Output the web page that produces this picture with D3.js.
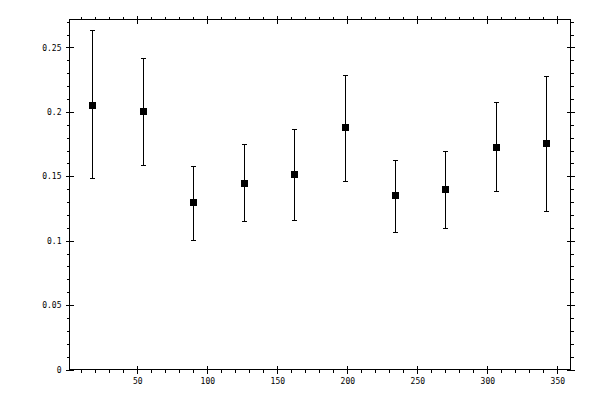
<!DOCTYPE html>
<html>
<head>
<meta charset="utf-8">
<script src="https://cdn.jsdelivr.net/npm/d3@7"></script>
<style>
  html, body { margin: 0; padding: 0; background: #fff; }
  svg { display: block; }
  text { font-family: "DejaVu Sans Mono", monospace; font-size: 8px; fill: #000; }
</style>
</head>
<body>
<div id="chart"></div>
<script>
// Data
const xValues = [18, 54, 90, 126, 162, 198, 234, 270, 306, 342];
const yValues = [0.2057, 0.2003, 0.1297, 0.1444, 0.1514, 0.1879, 0.1351, 0.1398, 0.1724, 0.1755];
const yUpper  = [0.2632, 0.2422, 0.1576, 0.1747, 0.1868, 0.2290, 0.1630, 0.1693, 0.2073, 0.2275];
const yLower  = [0.1483, 0.1584, 0.1009, 0.1149, 0.1157, 0.1467, 0.1071, 0.1095, 0.1382, 0.1234];

const xMajorTicks = [50, 100, 150, 200, 250, 300, 350];
const xTickLabels = ["50", "100", "150", "200", "250", "300", "350"];
const xMinorTicks = [10, 20, 30, 40, 60, 70, 80, 90, 110, 120, 130, 140, 160, 170, 180, 190,
                     210, 220, 230, 240, 260, 270, 280, 290, 310, 320, 330, 340];
const yMajorTicks = [0, 0.05, 0.1, 0.15, 0.2, 0.25];
const yTickLabels = ["0", "0.05", "0.1", "0.15", "0.2", "0.25"];
const yMinorTicks = [0.01, 0.02, 0.03, 0.04, 0.06, 0.07, 0.08, 0.09, 0.11, 0.12, 0.13, 0.14,
                     0.16, 0.17, 0.18, 0.19, 0.21, 0.22, 0.23, 0.24, 0.26, 0.27];

const width = 600;
const height = 400;
const plotLeft = 69.5, plotRight = 570.5, plotTop = 19.5, plotBottom = 369.5;

const x = d3.scaleLinear().domain([1.6, 359.4]).range([plotLeft, plotRight]);
const y = d3.scaleLinear().domain([0, 0.2717]).range([plotBottom, plotTop]);

const svg = d3.create("svg")
    .attr("width", width)
    .attr("height", height);

// frame
svg.append("rect")
    .attr("x", plotLeft).attr("y", plotTop)
    .attr("width", plotRight - plotLeft).attr("height", plotBottom - plotTop)
    .attr("fill", "none").attr("stroke", "#000").attr("stroke-width", 1)
    .attr("shape-rendering", "crispEdges");

// one side of the frame: outer minor + major ticks, labels optional
function drawAxis(axisFn, scale, pos, transform, labels, pad) {
    const g = svg.append("g").attr("shape-rendering", "crispEdges");
    g.append("g").attr("transform", transform)
        .call(axisFn(scale).tickValues(pos.minor).tickSize(3).tickFormat(""))
        .call(s => s.select(".domain").remove());
    g.append("g").attr("transform", transform)
        .call(axisFn(scale).tickValues(pos.major).tickSize(4).tickPadding(pad || 3)
            .tickFormat((d, i) => labels ? labels[i] : ""))
        .call(s => s.select(".domain").remove());
    return g;
}

const xPos = { major: xMajorTicks, minor: xMinorTicks };
const yPos = { major: yMajorTicks, minor: yMinorTicks };

drawAxis(d3.axisBottom, x, xPos, `translate(0,${plotBottom})`, xTickLabels, 5);
drawAxis(d3.axisTop, x, xPos, `translate(0,${plotTop})`, null);
drawAxis(d3.axisLeft, y, yPos, `translate(${plotLeft},0)`, yTickLabels, 4);
drawAxis(d3.axisRight, y, yPos, `translate(${plotRight},0)`, null);

// inner halves of major ticks
const inner = svg.append("g").attr("shape-rendering", "crispEdges");
inner.append("g").attr("transform", `translate(0,${plotBottom})`)
    .call(d3.axisTop(x).tickValues(xMajorTicks).tickSize(4).tickFormat(""))
    .call(s => s.select(".domain").remove());
inner.append("g").attr("transform", `translate(0,${plotTop})`)
    .call(d3.axisBottom(x).tickValues(xMajorTicks).tickSize(4).tickFormat(""))
    .call(s => s.select(".domain").remove());
inner.append("g").attr("transform", `translate(${plotLeft},0)`)
    .call(d3.axisRight(y).tickValues(yMajorTicks).tickSize(4).tickFormat(""))
    .call(s => s.select(".domain").remove());
inner.append("g").attr("transform", `translate(${plotRight},0)`)
    .call(d3.axisLeft(y).tickValues(yMajorTicks).tickSize(4).tickFormat(""))
    .call(s => s.select(".domain").remove());

svg.selectAll(".tick text").attr("font-family", null).attr("font-size", null);
svg.selectAll(".tick line").attr("stroke", "#000");

// error bars
const points = xValues.map((d, i) => ({ x: d, y: yValues[i], hi: yUpper[i], lo: yLower[i] }));

const bars = svg.append("g")
    .attr("stroke", "#000")
    .attr("stroke-width", 1)
    .attr("shape-rendering", "crispEdges");

bars.selectAll("line.v")
    .data(points)
    .join("line")
    .attr("class", "v")
    .attr("x1", d => Math.round(x(d.x)) + 0.5)
    .attr("x2", d => Math.round(x(d.x)) + 0.5)
    .attr("y1", d => y(d.hi))
    .attr("y2", d => y(d.lo));

bars.selectAll("line.cap-hi")
    .data(points)
    .join("line")
    .attr("class", "cap-hi")
    .attr("x1", d => Math.round(x(d.x)) - 2)
    .attr("x2", d => Math.round(x(d.x)) + 3)
    .attr("y1", d => Math.round(y(d.hi)) + 0.5)
    .attr("y2", d => Math.round(y(d.hi)) + 0.5);

bars.selectAll("line.cap-lo")
    .data(points)
    .join("line")
    .attr("class", "cap-lo")
    .attr("x1", d => Math.round(x(d.x)) - 2)
    .attr("x2", d => Math.round(x(d.x)) + 3)
    .attr("y1", d => Math.round(y(d.lo)) + 0.5)
    .attr("y2", d => Math.round(y(d.lo)) + 0.5);

// square markers
svg.append("g")
    .selectAll("rect")
    .data(points)
    .join("rect")
    .attr("x", d => Math.round(x(d.x)) - 3)
    .attr("y", d => Math.round(y(d.y)) - 3)
    .attr("width", 7)
    .attr("height", 7)
    .attr("fill", "#000")
    .attr("shape-rendering", "crispEdges");

document.getElementById("chart").appendChild(svg.node());
</script>
</body>
</html>
